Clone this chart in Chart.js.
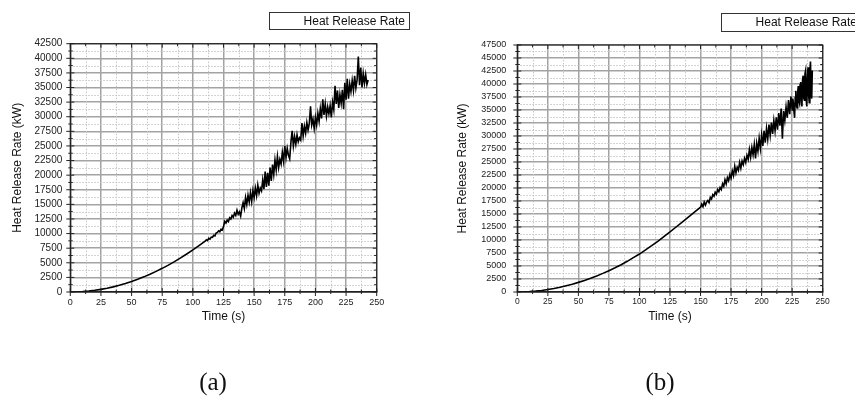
<!DOCTYPE html>
<html>
<head>
<meta charset="utf-8">
<title>Heat Release Rate</title>
<script src="https://cdn.jsdelivr.net/npm/chart.js@4.4.1/dist/chart.umd.min.js"></script>
<style>
  html, body { margin: 0; padding: 0; background: #fff; }
  #page { position: relative; width: 855px; height: 398px; overflow: hidden; background: #fff; }
  .panel { position: absolute; top: 0; }
  .caption {
    position: absolute; top: 369px; line-height: 25px;
    font-family: "Liberation Serif", "Times New Roman", serif; font-size: 25px; color: #111;
    transform: translateX(-50%);
  }
</style>
</head>
<body>
<div id="page">
  <canvas id="chartA" class="panel" width="428" height="398" style="left:0px"></canvas>
  <canvas id="chartB" class="panel" width="427" height="398" style="left:428px"></canvas>
  <div class="caption" style="left:213px">(a)</div>
  <div class="caption" style="left:660px">(b)</div>
</div>
<script>
// case (a): time (s) and heat release rate (kW)
var timeA = [
  0, 5, 10, 15, 20, 25, 30, 35, 40, 45,
  50, 55, 60, 65, 70, 75, 80, 85, 90, 95,
  100, 105,
  110, 111, 112, 113, 114, 115, 116, 117, 118, 119,
  120, 121, 122, 123, 124, 125, 126, 127, 128, 129,
  130, 131, 132, 133, 134, 135, 136, 137, 138, 139,
  140, 141, 142, 143, 144, 145, 146, 147, 148, 149,
  150, 151, 152, 153, 154, 155, 156, 157, 158, 159,
  160, 161, 162, 163, 164, 165, 166, 167, 168, 169,
  170, 171, 172, 173, 174, 175, 176, 177, 178, 179,
  180, 181, 182, 183, 184, 185, 186, 187, 188, 189,
  190, 191, 192, 193, 194, 195, 196, 197, 198, 199,
  200, 201, 202, 203, 204, 205, 206, 207, 208, 209,
  210, 211, 212, 213, 214, 215, 216, 217, 218, 219,
  220, 221, 222, 223, 224, 225, 226, 227, 228, 229,
  230, 231, 232, 233, 234, 235, 236, 237, 238, 239,
  240, 241, 242, 243
];
var hrrA = [
  0, 18, 72, 160, 290, 450, 650, 880, 1150, 1460,
  1800, 2180, 2590, 3040, 3530, 4050, 4600, 5200, 5830, 6500,
  7200, 7940,
  8700, 8950, 8800, 9200, 9050, 9400, 9350, 9700, 9600, 10100,
  10200, 10450, 10300, 10750, 10600, 11200, 12100, 11800, 12300, 12050,
  12700, 12500, 13100, 12800, 13500, 13100, 14000, 13300, 13700, 13000,
  14400, 15300, 14300, 16200, 15000, 16600, 15400, 17000, 15500, 17400,
  16200, 17800, 16500, 18300, 16900, 17800, 17300, 19200, 17600, 20600,
  18000, 20400, 18200, 21300, 19000, 21800, 20100, 22600, 20900, 23200,
  21300, 22700, 21900, 23900, 22400, 25000, 23000, 24600, 23400, 22800,
  25600, 27600, 25000, 26600, 25300, 26900, 25700, 26400, 26000, 28900,
  26700, 28400, 27200, 29000, 27700, 28800, 31800, 28600, 29600, 28000,
  29900, 28600, 30600, 29200, 31400, 29700, 33000, 30300, 32200, 30100,
  31700, 30500, 31900, 29900, 32500, 31200, 35300, 32200, 34500, 31500,
  33800, 32300, 34600, 31300, 35800, 32900, 36500, 33100, 35600, 34300,
  36200, 34500, 37000, 34900, 36300, 40300, 35400, 38400, 35000, 37400,
  35700, 37200, 35500, 36300
];

// case (b), sampled every half second near the end
var timeB = [
  0, 5, 10, 15, 20, 25, 30, 35, 40, 45,
  50, 55, 60, 65, 70, 75, 80, 85, 90, 95,
  100, 105, 110, 115, 120, 125, 130, 135, 140, 145,
  150, 151, 152, 153, 154, 155, 156, 157, 158, 159,
  160, 161, 162, 163, 164, 165, 166, 167, 168, 169,
  170, 171, 172, 173, 174, 175, 176, 177, 178, 179,
  180, 181, 182, 183, 184, 185, 186, 187, 188, 189,
  190, 191, 192, 193, 194, 195, 196, 197, 198, 199,
  200, 201, 202, 203, 204, 205, 206, 207, 208, 209,
  210, 211, 212, 213, 214, 215, 216, 217, 218, 219,
  220, 221, 222, 223, 224,
  225, 225.5, 226, 226.5, 227, 227.5, 228, 228.5, 229, 229.5,
  230, 230.5, 231, 231.5, 232, 232.5, 233, 233.5, 234, 234.5,
  235, 235.5, 236, 236.5, 237, 237.5, 238, 238.5, 239, 239.5,
  240, 240.5, 241, 241.5
];
var hrrB = [
  0, 20, 75, 170, 300, 470, 680, 920, 1200, 1500,
  1850, 2230, 2650, 3100, 3580, 4100, 4650, 5250, 5900, 6600,
  7300, 8100, 8900, 9750, 10650, 11550, 12500, 13450, 14400, 15350,
  16300, 16900, 16400, 17300, 16700, 17300, 17600, 17200, 18200, 17900,
  18700, 18400, 19200, 18800, 19700, 19300, 20100, 19700, 20800, 20300,
  21600, 20800, 22000, 21400, 22600, 21900, 23300, 22400, 24200, 22900,
  24000, 23400, 24900, 23800, 25200, 24500, 25700, 24900, 26300, 25500,
  27400, 25900, 27800, 26400, 28400, 25700, 28600, 27100, 29600, 27600,
  30200, 28100, 31000, 28700, 31400, 29400, 32200, 30100, 32600, 30400,
  33000, 31000, 33600, 31200, 34400, 32000, 35300, 29500, 34800, 33000,
  35600, 33500, 36900, 34200, 37600,
  35000, 37200, 36400, 34600, 33500, 37400, 38700, 35900, 35400, 38300,
  39600, 36800, 36300, 39900, 40400, 36500, 35700, 40800, 41600, 37300,
  36900, 42000, 42600, 37000, 35700, 41400, 43200, 37800, 36400, 42500,
  44300, 38100, 37200, 42600
];

var xMax = 250, xStep = 25;
var yMaxA = 42500, yMaxB = 47500, yStep = 2500;
var seriesLabel = 'Heat Release Rate';
var xTitle = 'Time (s)';
var yTitle = 'Heat Release Rate (kW)';

var SANS = '"Liberation Sans", Arial, Helvetica, sans-serif';
var CANVAS_H = 398;
var X_AXIS_H = 32.3;

function toPoints(t, v) {
  return t.map(function (x, i) { return { x: x, y: v[i] }; });
}

function hLine(ctx, x1, x2, y) { ctx.beginPath(); ctx.moveTo(x1, y); ctx.lineTo(x2, y); ctx.stroke(); }
function vLine(ctx, x, y1, y2) { ctx.beginPath(); ctx.moveTo(x, y1); ctx.lineTo(x, y2); ctx.stroke(); }

// dotted minor grid, closed frame with ticks on every side, boxed legend
var framePlugin = {
  id: 'frame',
  beforeDatasetsDraw: function (chart) {
    var ctx = chart.ctx, a = chart.chartArea;
    var xs = chart.scales.x, ys = chart.scales.y;
    ctx.save();
    ctx.strokeStyle = '#c6c6c6';
    ctx.lineWidth = 1;
    ctx.setLineDash([1.5, 1.5]);
    for (var v = xStep / 2; v < xs.max; v += xStep) {
      vLine(ctx, Math.round(xs.getPixelForValue(v)) + 0.5, a.top, a.bottom);
    }
    for (var w = yStep / 2; w < ys.max; w += yStep) {
      hLine(ctx, a.left, a.right, Math.round(ys.getPixelForValue(w)) + 0.5);
    }
    ctx.restore();
  },
  afterDraw: function (chart, args, opts) {
    var ctx = chart.ctx, a = chart.chartArea;
    var xs = chart.scales.x, ys = chart.scales.y;
    ctx.save();
    ctx.strokeStyle = '#222';
    ctx.lineWidth = 1.2;
    ctx.strokeRect(a.left, a.top, a.right - a.left, a.bottom - a.top);

    ctx.lineWidth = 1;
    for (var v = 0; v <= xs.max; v += xStep / 2) {
      var px = xs.getPixelForValue(v);
      var major = (v % xStep === 0);
      var len = major ? 4 : 2.5;
      vLine(ctx, px, a.bottom - len, a.bottom + (major ? 4 : 2));
      vLine(ctx, px, a.top, a.top + len);
    }
    for (var w = 0; w <= ys.max; w += yStep / 2) {
      var py = ys.getPixelForValue(w);
      var majorY = (w % yStep === 0);
      var lenY = majorY ? 4 : 2.5;
      hLine(ctx, a.left - (majorY ? 4 : 2), a.left + lenY, py);
      hLine(ctx, a.right - lenY, a.right, py);
    }

    // legend box
    var lg = opts.legend;
    ctx.fillStyle = '#fff';
    ctx.fillRect(lg.x, lg.y, lg.w, lg.h);
    ctx.strokeStyle = '#333';
    ctx.lineWidth = 1;
    ctx.strokeRect(lg.x + 0.5, lg.y + 0.5, lg.w, lg.h);
    ctx.fillStyle = '#111';
    ctx.font = '12px ' + SANS;
    ctx.textAlign = 'right';
    ctx.textBaseline = 'middle';
    ctx.fillText(seriesLabel, lg.x + lg.w - 4, lg.y + lg.h / 2 + 1);
    ctx.restore();
  }
};

function makeChart(id, t, v, p) {
  return new Chart(document.getElementById(id), {
    type: 'line',
    data: {
      datasets: [{
        label: seriesLabel,
        data: toPoints(t, v),
        borderColor: '#000',
        borderWidth: 1.6,
        pointRadius: 0,
        fill: false,
        tension: 0
      }]
    },
    options: {
      responsive: false,
      animation: false,
      devicePixelRatio: 1,
      layout: {
        padding: { left: 0, top: p.top, right: p.width - p.right, bottom: CANVAS_H - p.bottom - X_AXIS_H }
      },
      plugins: {
        legend: { display: false },
        tooltip: { enabled: false },
        frame: { legend: p.legend }
      },
      scales: {
        x: {
          type: 'linear',
          min: 0,
          max: xMax,
          afterFit: function (s) { s.height = X_AXIS_H; },
          ticks: {
            stepSize: xStep, autoSkip: false, maxRotation: 0, padding: 5,
            color: '#222', font: { family: SANS, size: p.xTickSize },
            callback: function (val) { return String(val); }
          },
          grid: { color: '#a3a3a3', lineWidth: 1.5, drawTicks: false },
          border: { color: '#222', width: 1.2 },
          title: {
            display: true, text: xTitle, color: '#111', padding: 0,
            font: { family: SANS, size: 12 }
          }
        },
        y: {
          type: 'linear',
          min: 0,
          max: p.yMax,
          afterFit: function (s) { s.width = p.left; },
          ticks: {
            stepSize: yStep, autoSkip: false, padding: p.yTickPad,
            color: '#222', font: { family: SANS, size: p.yTickSize },
            callback: function (val) { return String(val); }
          },
          grid: { color: '#a3a3a3', lineWidth: 1.5, drawTicks: false },
          border: { color: '#222', width: 1.2 },
          title: {
            display: true, text: yTitle, color: '#111', padding: { top: p.yTitlePad, bottom: 0 },
            font: { family: SANS, size: 12 }
          }
        }
      }
    },
    plugins: [framePlugin]
  });
}

makeChart('chartA', timeA, hrrA, {
  width: 428, left: 70.3, right: 376.7, top: 43.7, bottom: 292,
  yMax: yMaxA, yTickPad: 8, yTickSize: 10, xTickSize: 9, yTitlePad: 10.4,
  legend: { x: 269, y: 12, w: 140, h: 17 }
});

makeChart('chartB', timeB, hrrB, {
  width: 427, left: 89.3, right: 394.7, top: 45, bottom: 292,
  yMax: yMaxB, yTickPad: 11, yTickSize: 9, xTickSize: 8.5, yTitlePad: 27.7,
  legend: { x: 293, y: 13, w: 140, h: 18 }
});
</script>
</body>
</html>
